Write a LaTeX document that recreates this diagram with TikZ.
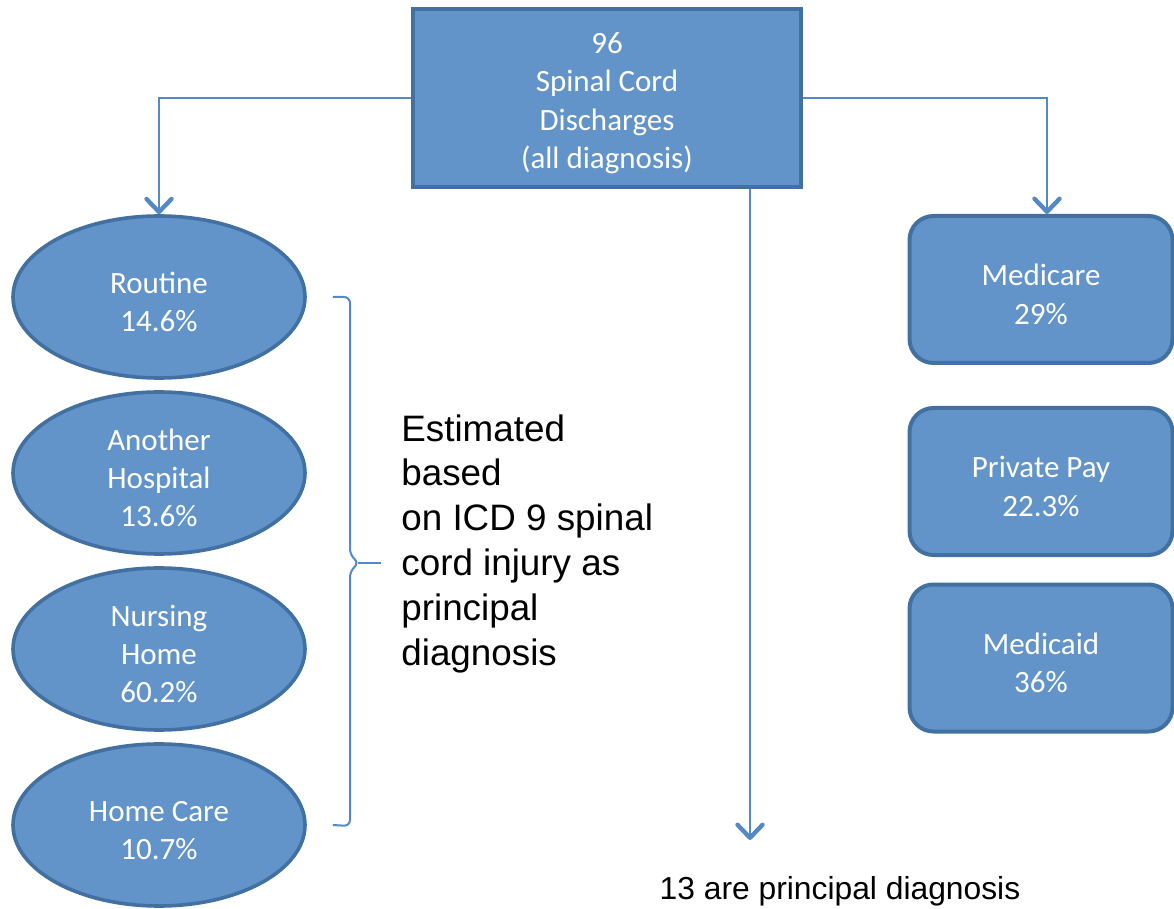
\documentclass[tikz,border=0pt]{standalone}
\usepackage{fontspec}
\setmainfont{Carlito}
\newfontfamily\arialfont{Liberation Sans}
\usepackage{tikz}
\usetikzlibrary{arrows.meta,positioning,shapes.geometric}
\definecolor{boxblue}{RGB}{98,148,202}
\definecolor{edgeblue}{RGB}{66,112,160}
\definecolor{lineblue}{RGB}{84,137,198}
\newcommand{\lift}{\rule{0pt}{15.5pt}}

\begin{document}
\begin{tikzpicture}[
  x=0.5pt, y=-0.5pt,
  node distance=5.2pt,
  rect/.style={draw=edgeblue, line width=2pt, fill=boxblue, text=white, align=center, font=\fontsize{15.5}{19.2}\selectfont},
  oval/.style={ellipse, draw=edgeblue, line width=1.8pt, fill=boxblue, text=white, align=center, inner sep=0pt, minimum width=146pt, minimum height=81pt, font=\fontsize{15.5}{19}\selectfont},
  pay/.style={rect, rounded corners=12pt, minimum width=131.5pt, minimum height=73.5pt},
  arr/.style={-{Straight Barb[length=6.5pt,width=12.5pt,line width=2.2pt,round]}, line width=1pt, lineblue},
  brace/.style={line width=1pt, lineblue, rounded corners=3pt},
  note/.style={font=\arialfont\fontsize{18.4}{22.4}\selectfont, align=left, inner sep=0pt}
]
\useasboundingbox (0,0) rectangle (1174,909);

\node[rect, minimum width=194pt, minimum height=89pt] (disc) at (607,98) {\lift 96\\Spinal Cord\\Discharges\\(all diagnosis)};

% discharge status
\node[oval] (routine) at (159,297) {\lift Routine\\14.6\%};
\node[oval, below=of routine] (hosp) {\lift Another\\Hospital\\13.6\%};
\node[oval, below=of hosp] (nursing) {\lift Nursing\\Home\\60.2\%};
\node[oval, below=of nursing] (homecare) {\lift Home Care\\10.7\%};

% payer
\node[pay] (medicare) at (1041,289.5) {\lift Medicare\\29\%};
\node[pay, below=20.5pt of medicare] (private) {\lift Private Pay\\22.3\%};
\node[pay, below=12.75pt of private] (medicaid) {\lift Medicaid\\36\%};

\node[note, anchor=north west] (estimate) at (401,414) {Estimated\\based\\on ICD 9 spinal\\cord injury as\\principal\\diagnosis};
\node[font=\arialfont\fontsize{15.9}{19}\selectfont] (principal) at (840,891) {13 are principal diagnosis};
\coordinate (tip) at (750,840);

\draw[arr] (disc.west) -| (routine.north);
\draw[arr] (disc.east) -| ([xshift=3pt]medicare.north);
\draw[arr] (disc.south -| tip) -- (tip);

% brace
\draw[brace] ([xshift=13pt]routine.east) -- (350,297) -- (350,555) -- (359,563) -- (350,571) -- (350,826) -- ([xshift=13pt]homecare.east);
\draw[brace] (358,563) -- ([xshift=-10pt]estimate.west |- 0,563);
\end{tikzpicture}
\end{document}
